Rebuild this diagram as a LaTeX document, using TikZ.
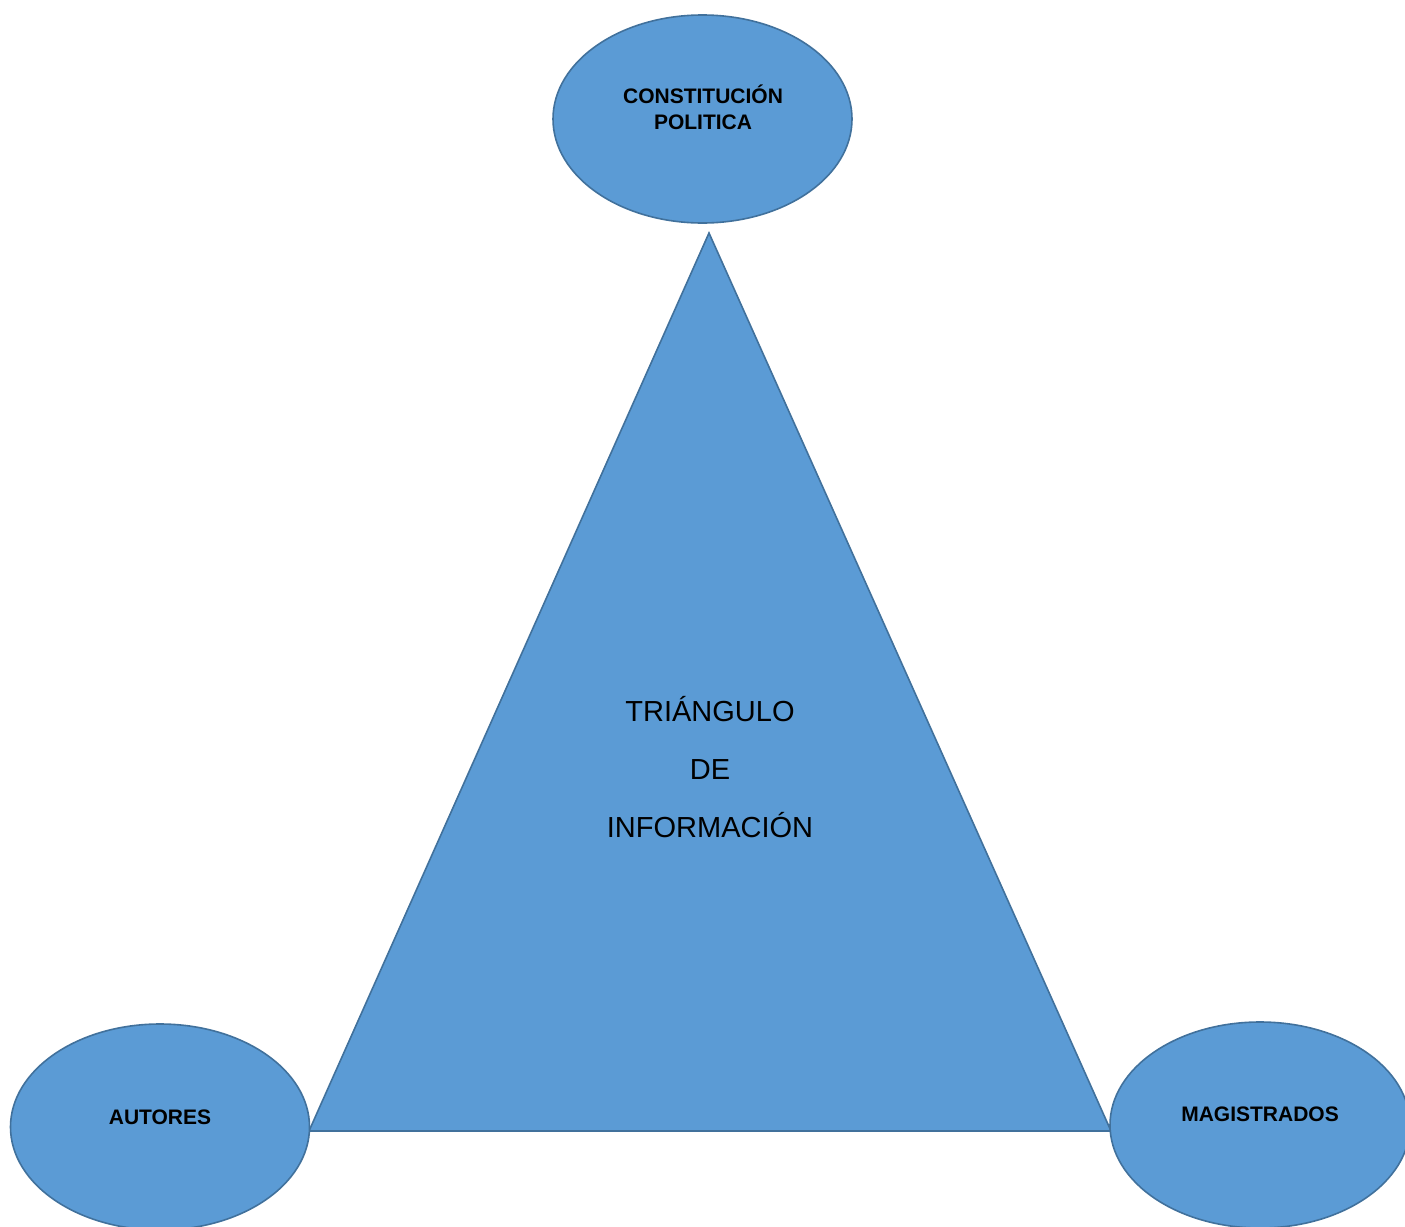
\documentclass[tikz,border=0pt]{standalone}
\usepackage{fontspec}
\setmainfont{Liberation Sans}
\usetikzlibrary{shapes.geometric}
\definecolor{fillblue}{HTML}{5B9BD5}
\definecolor{edgeblue}{HTML}{41719C}
\tikzset{
  oval/.style={ellipse, fill=fillblue, draw=edgeblue, line width=1.6pt, inner sep=0pt},
  ovaltext/.style={font=\fontsize{21}{26}\selectfont\bfseries, align=center, inner sep=0pt},
  tri/.style={fill=fillblue, draw=edgeblue, line width=1.6pt, line join=miter},
}
\begin{document}
\begin{tikzpicture}[x=1pt,y=-1pt]
\useasboundingbox (0,0) rectangle (1405,1226);
\coordinate (apex) at (709,233);
\coordinate (bl) at (309,1131);
\coordinate (br) at (1111,1131);
\draw[tri] (apex) -- (br) -- (bl) -- cycle;
\node[oval, minimum width=299pt, minimum height=208pt] (top) at (702.5,119) {};
\node[oval, minimum width=299pt, minimum height=206pt] (left) at (160,1127) {};
\node[oval, minimum width=300pt, minimum height=206pt] (right) at (1260,1125) {};
\node[ovaltext] (toptext) at (703,107) {CONSTITUCIÓN\\POLITICA};
\node[ovaltext] (lefttext) at (160,1117) {AUTORES};
\node[ovaltext] (righttext) at (1260,1114) {MAGISTRADOS};
\node[font=\fontsize{29}{58}\selectfont, align=center, inner sep=0pt] (tritext) at (710,767) {TRIÁNGULO\\DE\\INFORMACIÓN};
\end{tikzpicture}
\end{document}
